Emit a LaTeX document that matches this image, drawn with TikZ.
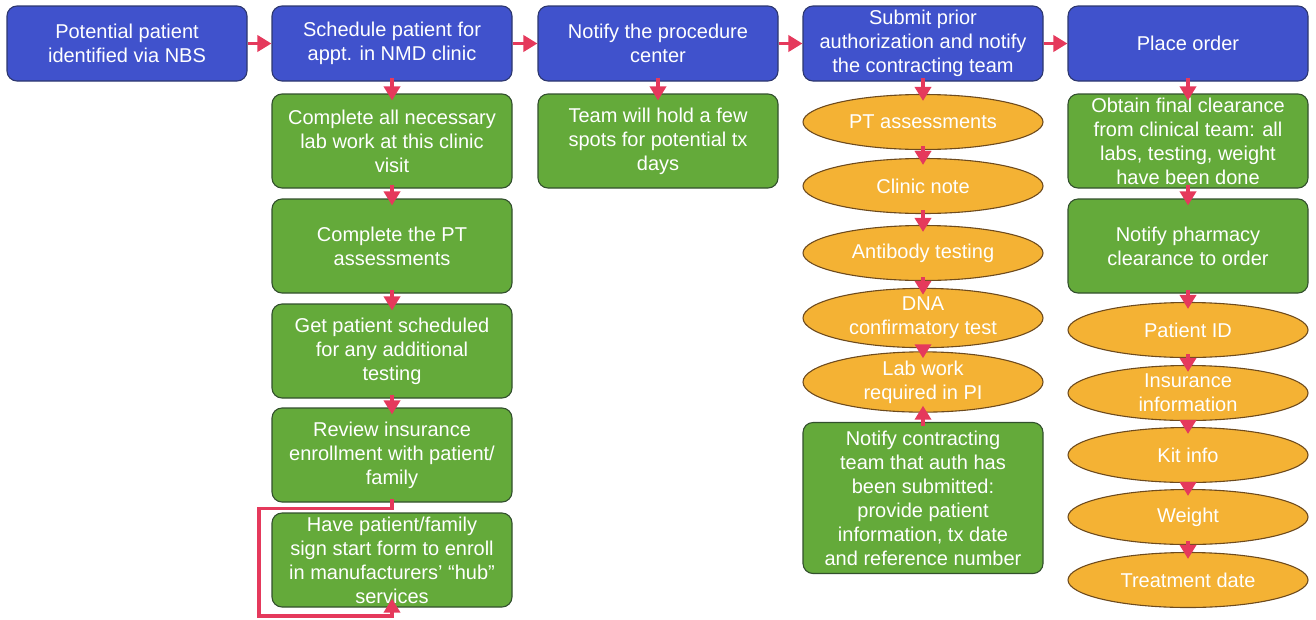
\documentclass[tikz,border=0pt]{standalone}
\usepackage{fontspec}
\setmainfont{Liberation Sans}
\usetikzlibrary{arrows.meta,shapes.geometric}
\definecolor{bluefill}{RGB}{64,82,204}
\definecolor{blueline}{RGB}{45,55,110}
\definecolor{greenfill}{RGB}{100,170,58}
\definecolor{greenline}{RGB}{50,80,45}
\definecolor{orangefill}{RGB}{244,178,52}
\definecolor{orangeline}{RGB}{110,75,30}
\definecolor{arrred}{RGB}{229,57,92}
\tikzset{
  basebox/.style={rounded corners=10pt, minimum width=240pt, inner sep=0pt, align=center,
     text=white, font=\fontsize{20}{24}\selectfont, line width=1.1pt},
  bluebox/.style={basebox, fill=bluefill, draw=blueline, minimum height=75pt},
  greenbox/.style={basebox, fill=greenfill, draw=greenline, minimum height=94pt},
  oval/.style={ellipse, minimum width=240pt, minimum height=55pt, inner sep=0pt, align=center,
     fill=orangefill, draw=orangeline, line width=1.1pt, text=white, font=\fontsize{20}{24}\selectfont},
  arr/.style={draw=arrred, line width=3.5pt, -{Triangle[length=14pt,width=16pt]}},
  varr/.style={arr, shorten <=-4pt, shorten >=-7pt}
}
\begin{document}
\begin{tikzpicture}[x=1pt,y=-1pt]
\useasboundingbox (0,0) rectangle (1316,619);
% blue row
\node[bluebox] (b1) at (127,43.5) {Potential patient\\identified via NBS};
\node[bluebox] (b2) at (392,43.5) {Schedule patient for\\appt. in NMD clinic};
\node[bluebox] (b3) at (658,43.5) {Notify the procedure\\center};
\node[bluebox] (b4) at (923,43.5) {Submit prior\\authorization and notify\\the contracting team};
\node[bluebox] (b5) at (1188,43.5) {Place order};
% column 2
\node[greenbox] (g1) at (392,141) {Complete all necessary\\lab work at this clinic\\visit};
\node[greenbox] (g2) at (392,246) {Complete the PT\\assessments};
\node[greenbox] (g3) at (392,351) {Get patient scheduled\\for any additional\\testing};
\node[greenbox] (g4) at (392,455) {Review insurance\\enrollment with patient/\\family};
\node[greenbox] (g5) at (392,560) {Have patient/family\\sign start form to enroll\\in manufacturers’ “hub”\\services};
% column 3
\node[greenbox] (t1) at (658,141) {Team will hold a few\\spots for potential tx\\days};
% column 4
\node[oval] (e1) at (923,122) {PT assessments};
\node[oval] (e2) at (923,186) {Clinic note};
\node[oval] (e3) at (923,253) {Antibody testing};
\node[oval] (e4) at (923,318) {DNA\\confirmatory test};
\node[oval] (e5) at (923,382) {Lab work\\required in PI};
\node[greenbox, minimum height=151pt] (n4) at (923,498) {Notify contracting\\team that auth has\\been submitted:\\provide patient\\information, tx date\\and reference number};
% column 5
\node[greenbox] (f1) at (1188,141) {Obtain final clearance\\from clinical team: all\\labs, testing, weight\\have been done};
\node[greenbox] (f2) at (1188,246) {Notify pharmacy\\clearance to order};
\node[oval] (o1) at (1188,330) {Patient ID};
\node[oval] (o2) at (1188,393) {Insurance\\information};
\node[oval] (o3) at (1188,455) {Kit info};
\node[oval] (o4) at (1188,517) {Weight};
\node[oval] (o5) at (1188,580) {Treatment date};
% horizontal arrows
\draw[arr] (b1) -- (b2);
\draw[arr] (b2) -- (b3);
\draw[arr] (b3) -- (b4);
\draw[arr] (b4) -- (b5);
% vertical arrows
\draw[varr] (b2) -- (g1);
\draw[varr] (g1) -- (g2);
\draw[varr] (g2) -- (g3);
\draw[varr] (g3) -- (g4);
\coordinate (c2) at (259,616);
\draw[arr, shorten <=-4pt, shorten >=-9pt] (g4.south) -- ++(0,6) -| (c2) -| (g5.south);
\draw[varr] (b3) -- (t1);
\draw[varr] (b4) -- (e1);
\draw[varr] (e1) -- (e2);
\draw[varr] (e2) -- (e3);
\draw[varr] (e3) -- (e4);
\draw[varr] (e4) -- (e5);
\draw[varr] (n4) -- (e5);
\draw[varr] (b5) -- (f1);
\draw[varr] (f1) -- (f2);
\draw[varr] (f2) -- (o1);
\draw[varr] (o1) -- (o2);
\draw[varr] (o2) -- (o3);
\draw[varr] (o3) -- (o4);
\draw[varr] (o4) -- (o5);
\end{tikzpicture}
\end{document}
